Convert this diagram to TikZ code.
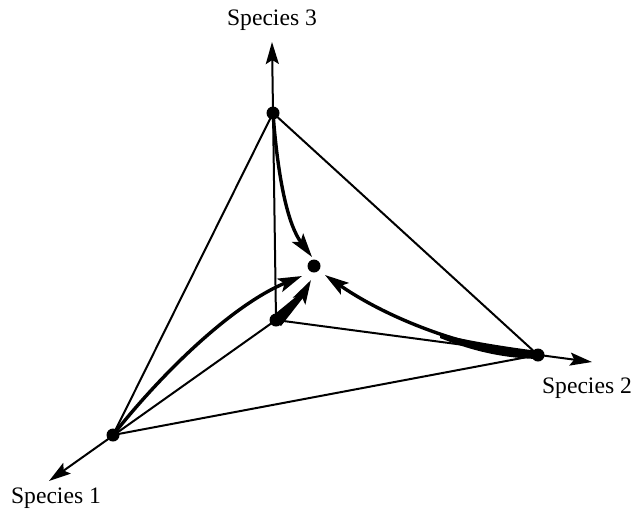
\documentclass[tikz,border=0pt]{standalone}
\usepackage{fontspec}
\setmainfont{Liberation Serif}
\usetikzlibrary{arrows.meta}
\begin{document}
\begin{tikzpicture}[x=0.5pt,y=-0.5pt,
  edge/.style={line width=1pt},
  axis/.style={line width=1pt,-{Stealth[length=11pt,width=6.5pt,inset=2pt]}},
  flow/.style={line width=1.7pt,-{Stealth[length=12pt,width=7pt,inset=2.5pt]}},
  dot/.style={circle,fill,inner sep=0pt,minimum size=6.5pt},
  lab/.style={font=\fontsize{11.8}{14}\selectfont,anchor=base,inner sep=0pt}]
\useasboundingbox (0,0) rectangle (635,510);
% points
\coordinate (O) at (276,320);
\coordinate (S1) at (113,435);
\coordinate (S2) at (538,355);
\coordinate (S3) at (273,113);
\coordinate (C) at (314,266);
\coordinate (A1) at (49,481);
\coordinate (A2) at (592,362);
\coordinate (A3) at (272,42);
\coordinate (T1) at (302,276);
\coordinate (T2) at (325,275);
\coordinate (T3) at (312,257);
\coordinate (T0) at (311,280);
% triangle
\draw[edge] (S1) -- (S2) -- (S3) -- cycle;
% axes
\draw[axis] (O) -- (A1);
\draw[axis] (O) -- (A2);
\draw[axis] (O) -- (A3);
% trajectories
\draw[flow] (S3) .. controls (278,180) and (288,225) .. (T3);
\draw[flow] (S1) .. controls (162,373) and (232,305) .. (T1);
\draw[flow] (S2) .. controls (470,350) and (390,320) .. (T2);
\draw[flow] (O) .. controls (290,310) and (302,296) .. (T0);
% tapered parts
\fill (538,351) .. controls (500,346) and (470,341) .. (440,334)
   -- (440,338) .. controls (470,350) and (500,358) .. (538,359) -- cycle;
\fill (270,318) -- (303,291) -- (306,294) -- (281,326) -- cycle;
% dots
\node[dot] (d1) at (S1) {};
\node[dot] (d2) at (S2) {};
\node[dot] (d3) at (S3) {};
\node[dot] (d0) at (O) {};
\node[dot] (dc) at (C) {};
% labels
\node[lab] (L3) at (272,25) {Species 3};
\node[lab] (L2) at (587,393) {Species 2};
\node[lab] (L1) at (56,503) {Species 1};
\end{tikzpicture}
\end{document}
